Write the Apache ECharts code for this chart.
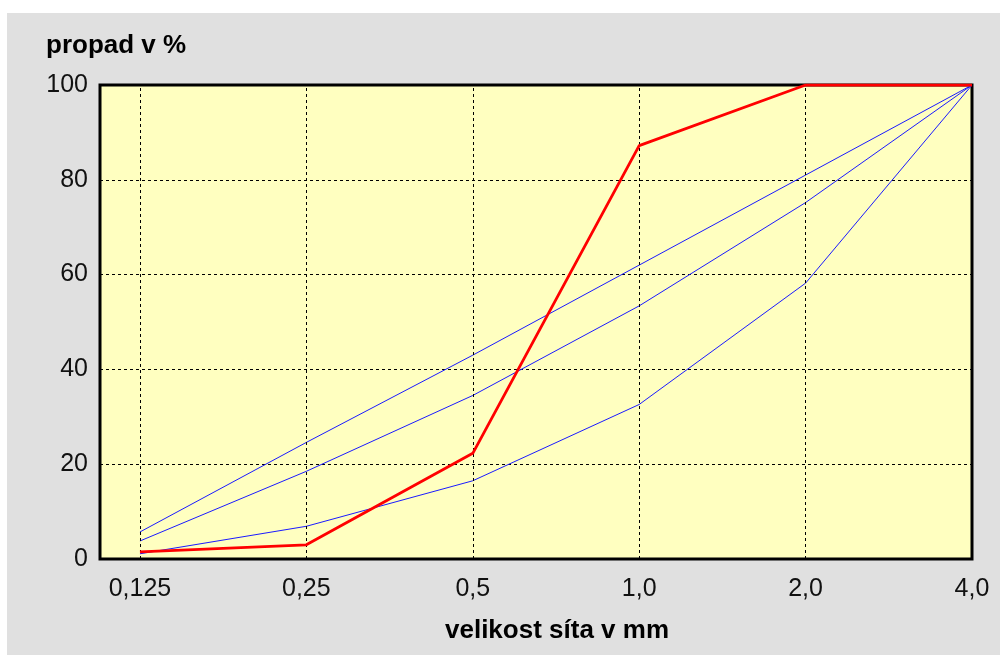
<!DOCTYPE html>
<html><head><meta charset="utf-8">
<script src="https://cdn.jsdelivr.net/npm/echarts@6/dist/echarts.min.js"></script>
<style>html,body{margin:0;padding:0;background:#fff;}#c{position:absolute;left:7px;top:13px;width:993px;height:642px;}</style>
</head><body><div id="c"></div>
<script>
const sieveLabels = ['0,125','0,25','0,5','1,0','2,0','4,0'];
const sievePositions = [0,1,2,3,4,5];
const yTicks = [0,20,40,60,80,100];
const redSample = [1.5, 3.0, 22.3, 87.2, 100, 100];
const blueUpper = [5.7, 24.6, 43.0, 62.0, 81.0, 100];
const blueMiddle = [3.8, 18.5, 34.5, 53.4, 75.2, 100];
const blueLower = [1.1, 6.9, 16.5, 32.6, 58.2, 100];

const toPts = arr => arr.map((v,i)=>[sievePositions[i],v]);
const font = 'Liberation Sans, Arial, sans-serif';
const chart = echarts.init(document.getElementById('c'), null, {renderer:'canvas'});
const blueStyle = {color:'#1a1aff', width:1};
const dash = {color:'#000', type:[3,3], width:1};
chart.setOption({
  backgroundColor:'#e0e0e0',
  animation:false,
  grid:{left:93, top:72, right:28, bottom:96, show:true, backgroundColor:'#ffffc0', borderColor:'#000', borderWidth:3},
  title:{text:'propad v %', left:34, top:15, textStyle:{fontFamily:font, fontSize:26, fontWeight:'bold', color:'#000'}},
  xAxis:{type:'value', min:-0.24, max:5,
    name:'velikost síta v mm', nameLocation:'middle', nameGap:59,
    nameTextStyle:{fontFamily:font, fontSize:26, fontWeight:'bold', color:'#000', padding:[0,0,0,42]},
    axisLine:{show:false}, axisTick:{show:false},
    axisLabel:{margin:18, fontFamily:font, fontSize:25, color:'#111',
      customValues:sievePositions,
      formatter:v=>sieveLabels[sievePositions.indexOf(Math.round(v))] ?? ''},
    splitLine:{show:false}
  },
  yAxis:{type:'value', min:0, max:100, interval:20,
    axisLine:{show:false}, axisTick:{show:false},
    axisLabel:{margin:12, fontFamily:font, fontSize:25, color:'#111', formatter:v=>yTicks.includes(v)?String(v):''},
    splitLine:{show:true, lineStyle:dash}
  },
  series:[
    {type:'line', data:[], silent:true,
      markLine:{silent:true, symbol:['none','none'], label:{show:false}, lineStyle:dash, animation:false,
        data:sievePositions.slice(0,5).map(x=>({xAxis:x}))}},
    {type:'line', data:toPts(blueUpper), symbol:'none', lineStyle:blueStyle},
    {type:'line', data:toPts(blueMiddle), symbol:'none', lineStyle:blueStyle},
    {type:'line', data:toPts(blueLower), symbol:'none', lineStyle:blueStyle},
    {type:'line', data:toPts(redSample), symbol:'none', lineStyle:{color:'#ff0000', width:2.8}, z:5}
  ]
});
</script></body></html>
